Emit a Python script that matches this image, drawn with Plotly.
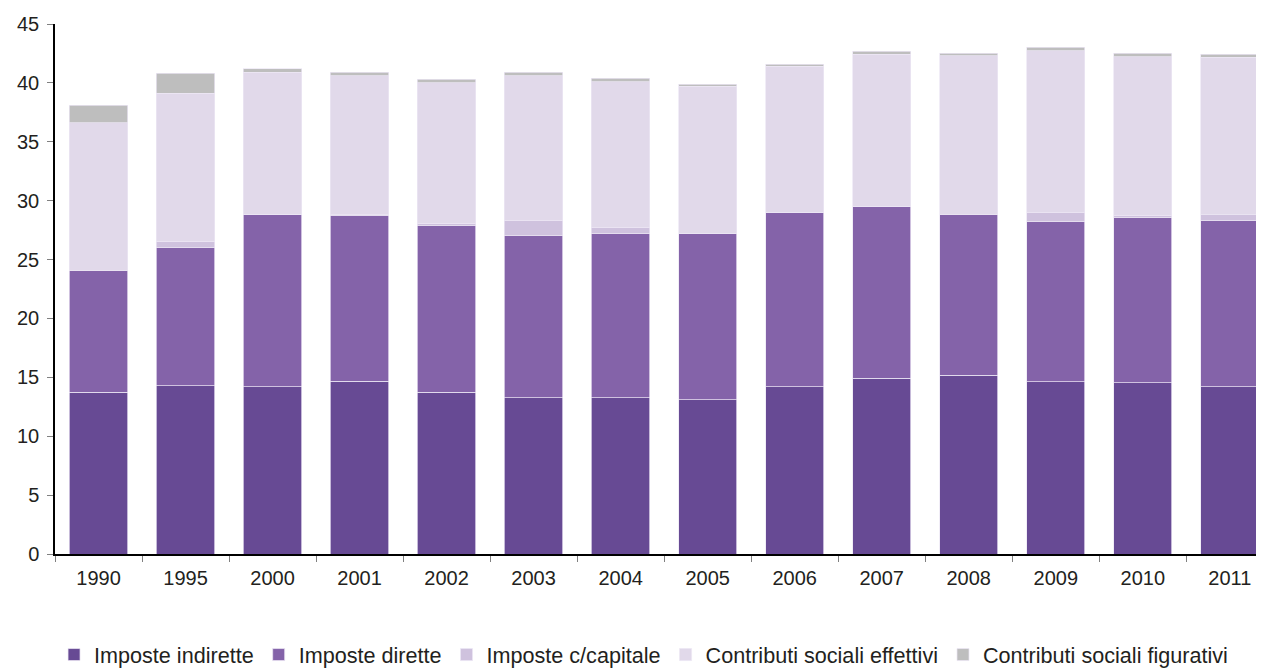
import plotly.graph_objects as go

years = ["1990", "1995", "2000", "2001", "2002", "2003", "2004", "2005",
         "2006", "2007", "2008", "2009", "2010", "2011"]

imposte_indirette = [13.75, 14.29, 14.20, 14.66, 13.75, 13.27, 13.27, 13.10,
                     14.18, 14.94, 15.17, 14.63, 14.54, 14.18]
imposte_dirette = [10.30, 11.71, 14.60, 14.09, 14.15, 13.81, 13.95, 14.12,
                   14.85, 14.60, 13.63, 13.58, 14.01, 14.15]
imposte_capitale = [0.00, 0.57, 0.05, 0.05, 0.20, 1.27, 0.54, 0.00,
                    0.00, 0.00, 0.00, 0.82, 0.23, 0.47]
contributi_effettivi = [12.57, 12.53, 12.07, 11.80, 11.90, 12.25, 12.34, 12.51,
                        12.40, 12.88, 13.50, 13.70, 13.44, 13.39]
contributi_figurativi = [1.50, 1.70, 0.28, 0.29, 0.32, 0.29, 0.30, 0.17,
                         0.17, 0.28, 0.23, 0.31, 0.31, 0.25]

series = [
    ("Imposte indirette", imposte_indirette, "#674A94"),
    ("Imposte dirette", imposte_dirette, "#8463A9"),
    ("Imposte c/capitale", imposte_capitale, "#CFC2DE"),
    ("Contributi sociali effettivi", contributi_effettivi, "#E1D9EA"),
    ("Contributi sociali figurativi", contributi_figurativi, "#BEBEBE"),
]

fig = go.Figure()
for name, vals, color in series:
    fig.add_trace(go.Bar(
        x=years, y=vals, name=name,
        marker=dict(color=color, line=dict(color="rgba(236,230,244,0.9)", width=0.8)),
    ))

font_family = "Liberation Sans, Arial, sans-serif"

# The page body has an 8px margin, so the figure is sized to fit the 1264x668 window.
fig.update_layout(
    barmode="stack",
    bargap=0.33,
    width=1256, height=660,
    margin=dict(l=47, r=0, t=16, b=114, pad=0, autoexpand=False),
    paper_bgcolor="white",
    plot_bgcolor="white",
    font=dict(family=font_family, size=20, color="#231F20"),
    showlegend=True,
    legend=dict(
        orientation="h",
        xref="container", yref="container",
        x=0.506, xanchor="center",
        y=0.0197, yanchor="middle",
        font=dict(size=21.6, color="#231F20"),
        itemwidth=30,
        tracegroupgap=0,
        traceorder="normal",
    ),
    xaxis=dict(
        type="category",
        range=[-0.5, 13.393],
        showline=True, linecolor="#000000", linewidth=1.5,
        ticks="outside", tickson="boundaries", ticklen=6,
        tickcolor="#808080", tickwidth=1,
        showgrid=False, zeroline=False, automargin=False,
        ticklabelstandoff=5,
        tickfont=dict(size=20, color="#231F20"),
    ),
    yaxis=dict(
        range=[0, 45],
        tickvals=[0, 5, 10, 15, 20, 25, 30, 35, 40, 45],
        showline=True, linecolor="#000000", linewidth=1.5,
        ticks="outside", ticklen=6, tickcolor="#808080", tickwidth=1,
        showgrid=False, zeroline=False, automargin=False,
        ticklabelstandoff=4,
        tickfont=dict(size=20, color="#231F20"),
    ),
)

fig.write_html("out.html")
